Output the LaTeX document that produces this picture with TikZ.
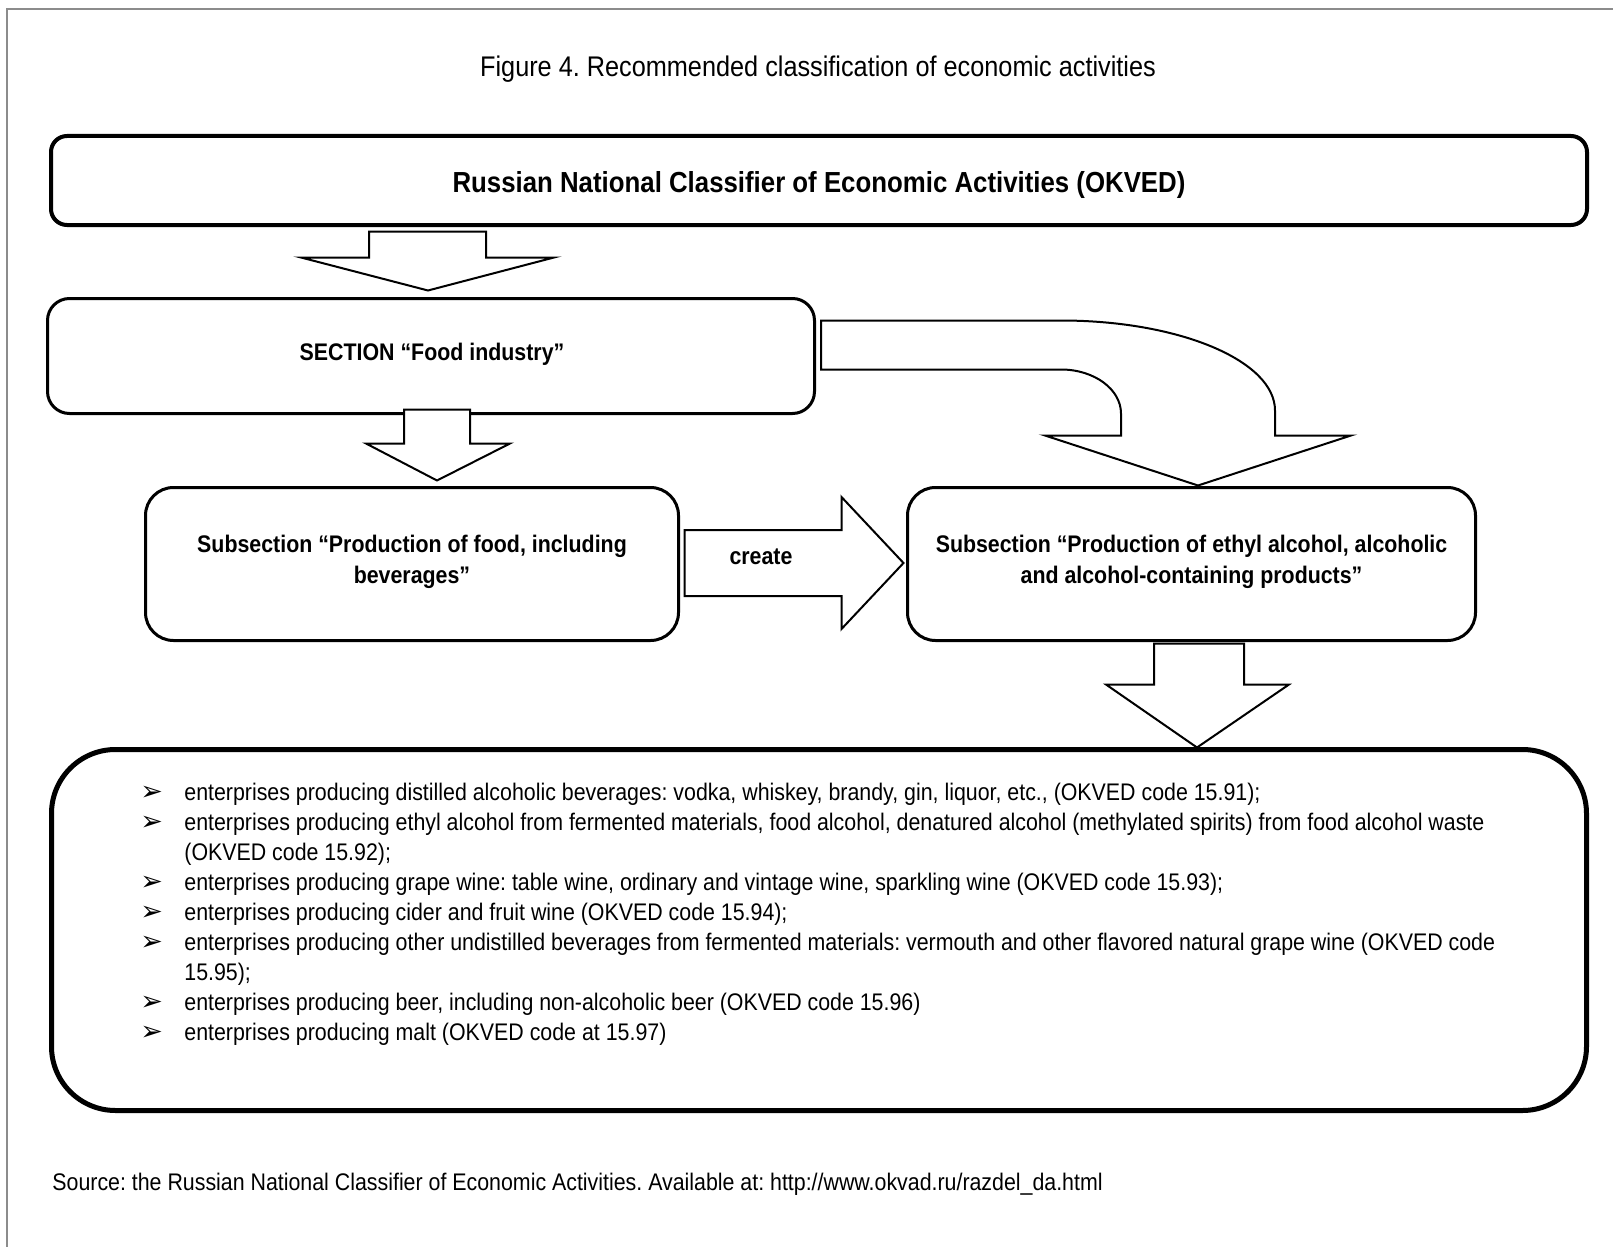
\documentclass[tikz,border=0pt]{standalone}
\usepackage{fontspec}
\setmainfont{Liberation Sans}[FakeStretch=0.89]
\newfontfamily\symfont{DejaVu Sans}
\usetikzlibrary{calc}
\newcommand{\bul}{\makebox[18.5pt][l]{\hspace*{-3.5pt}\symfont\fontsize{13.5}{12}\selectfont ➢}}
\frenchspacing
\begin{document}
\begin{tikzpicture}[x=0.5pt,y=-0.5pt,
  box/.style={draw, line width=1.5pt, rounded corners=11pt, inner sep=0pt},
  boxtext/.style={inner sep=0pt, align=center, font=\bfseries\fontsize{12}{15.5}\selectfont},
  blockarrow/.style={draw, line width=1pt, fill=white, line join=miter},
  itemline/.style={anchor=base west, inner sep=0pt, font=\fontsize{12}{15}\selectfont},
  frameline/.style={draw=black!45, line width=1pt}
]
\useasboundingbox (0,0) rectangle (1613,1247);
\fill[white] (0,0) rectangle (1613,1247);
\draw[frameline] (7,1247) -- (7,9) -- (1613,9);

\node[inner sep=0pt, font=\fontsize{14.2}{17}\selectfont] (title) at (818,69)
  {Figure 4. Recommended classification of economic activities};

\node[box, line width=2pt, rounded corners=8pt, minimum width=768pt, minimum height=44.5pt] (okved) at (819,180.5) {};
\node[boxtext, font=\bfseries\fontsize{14.5}{17}\selectfont] (okvedtext) at (819,185)
  {Russian National Classifier of Economic Activities (OKVED)};

\node[box, minimum width=383.5pt, minimum height=57.5pt] (section) at (431,356) {};
\node[boxtext] (sectiontext) at (432,354) {SECTION “Food industry”};

\node[box, rounded corners=14pt, minimum width=266.5pt, minimum height=76.5pt] (food) at (412,564) {};
\node[boxtext] (foodtext) at (412,562) {Subsection “Production of food, including\\beverages”};

\node[box, rounded corners=14pt, minimum width=284pt, minimum height=76.5pt] (alc) at (1191.5,564) {};
\node[boxtext] (alctext) at (1191.5,562) {Subsection “Production of ethyl alcohol, alcoholic\\and alcohol-containing products”};

\node[box, line width=2.5pt, rounded corners=32pt, minimum width=767.5pt, minimum height=180.5pt] (list) at (819,930) {};

% block arrows
\draw[blockarrow, shift={($(section.north)+(-3,-6.5)$)}]
  (-59,-59) -- (58,-59) -- (58,-33) -- (126,-33) -- (0,0) -- (-127,-33) -- (-59,-33) -- cycle;
\draw[blockarrow, shift={($(food.north)+(25,-5.5)$)}]
  (-33,-71) -- (33,-71) -- (33,-37) -- (73,-37) -- (0,0) -- (-71,-37) -- (-33,-37) -- cycle;
\draw[blockarrow, shift={($(alc.west)+(-2.5,-1)$)}]
  (-219,-33) -- (-62,-33) -- (-62,-66) -- (0,0) -- (-62,66) -- (-62,33) -- (-219,33) -- cycle;
\node[boxtext, font=\bfseries\fontsize{12}{15}\selectfont] (create) at (761,557) {create};
\draw[blockarrow, shift={($(alc.south)+(5.5,105.5)$)}]
  (-43,-104) -- (47,-104) -- (47,-63) -- (92,-63) -- (0,0) -- (-91,-63) -- (-43,-63) -- cycle;
\draw[blockarrow, shift={($(alc.north)+(6.5,-0.5)$)}]
  (-377,-165) -- (-137,-165) .. controls (-18.8,-165) and (77,-124.7) .. (77,-75)
  -- (77,-50) -- (153,-50) -- (0,0) -- (-153,-50) -- (-77,-50) -- (-77,-72)
  .. controls (-77,-96.3) and (-103.9,-116) .. (-137,-116) -- (-377,-116) -- cycle;

% list items
\node[itemline] (l1) at (147,800) {\bul enterprises producing distilled alcoholic beverages: vodka, whiskey, brandy, gin, liquor, etc., (OKVED code 15.91);};
\node[itemline] (l2) at (147,830) {\bul enterprises producing ethyl alcohol from fermented materials, food alcohol, denatured alcohol (methylated spirits) from food alcohol waste};
\node[itemline] (l3) at (184,860) {(OKVED code 15.92);};
\node[itemline] (l4) at (147,890) {\bul enterprises producing grape wine: table wine, ordinary and vintage wine, sparkling wine (OKVED code 15.93);};
\node[itemline] (l5) at (147,920) {\bul enterprises producing cider and fruit wine (OKVED code 15.94);};
\node[itemline] (l6) at (147,950) {\bul enterprises producing other undistilled beverages from fermented materials: vermouth and other flavored natural grape wine (OKVED code};
\node[itemline] (l7) at (184,980) {15.95);};
\node[itemline] (l8) at (147,1010) {\bul enterprises producing beer, including non-alcoholic beer (OKVED code 15.96)};
\node[itemline] (l9) at (147,1040) {\bul enterprises producing malt (OKVED code at 15.97)};

\node[itemline] (src) at (52,1190) {Source: the Russian National Classifier of Economic Activities. Available at: http://www.okvad.ru/razdel\_da.html};
\end{tikzpicture}
\end{document}
